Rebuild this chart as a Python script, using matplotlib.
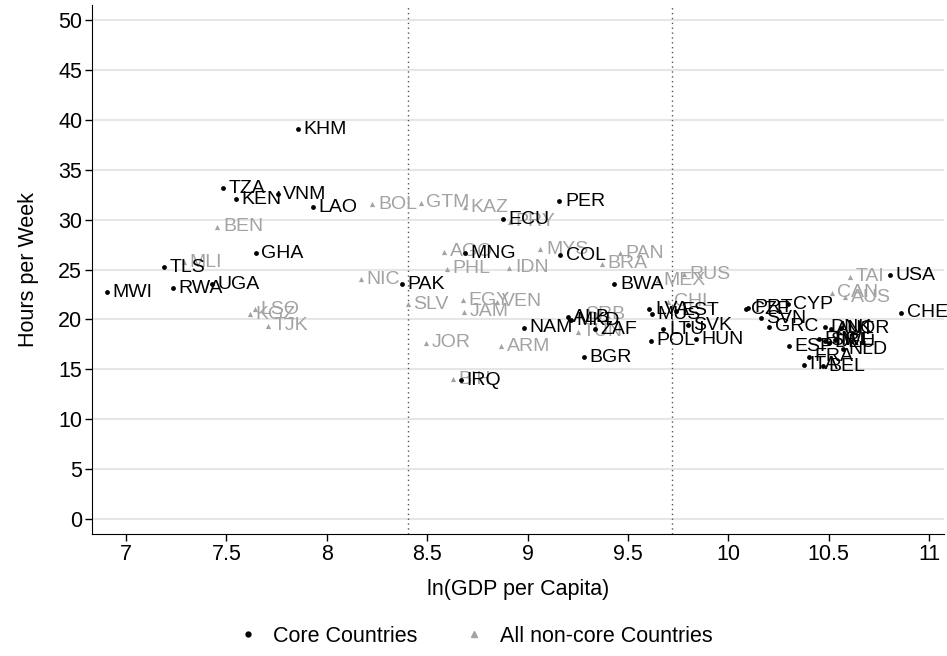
import matplotlib
matplotlib.use("Agg")
import matplotlib.pyplot as plt
from matplotlib.lines import Line2D

plt.rcParams["font.family"] = ["Liberation Sans", "DejaVu Sans"]

# Core countries (black dots)
core_codes = ["MWI", "TLS", "RWA", "UGA", "TZA", "KEN", "GHA", "VNM", "KHM", "LAO",
              "PAK", "MNG", "IRQ", "ECU", "NAM", "PER", "COL", "ALB", "MKD", "ZAF",
              "BGR", "BWA", "LVA", "MUS", "POL", "LTU", "EST", "SVK", "HUN", "CZE",
              "PRT", "SVN", "GRC", "CYP", "ESP", "ITA", "FRA", "BEL", "DNK", "AUT",
              "NOR", "FIN", "SWE", "DEU", "IRL", "NLD", "USA", "CHE"]
core_gdp = [6.905, 7.188, 7.234, 7.430, 7.485, 7.547, 7.646, 7.756, 7.858, 7.933,
            8.375, 8.688, 8.669, 8.877, 8.980, 9.159, 9.162, 9.199, 9.218, 9.337,
            9.279, 9.433, 9.607, 9.621, 9.614, 9.677, 9.740, 9.797, 9.840, 10.087,
            10.100, 10.162, 10.205, 10.295, 10.300, 10.375, 10.400, 10.471, 10.480, 10.510,
            10.560, 10.450, 10.480, 10.500, 10.530, 10.570, 10.807, 10.860]
core_hours = [22.75, 25.22, 23.11, 23.55, 33.17, 32.03, 26.62, 32.57, 39.05, 31.26,
              23.52, 26.62, 13.93, 30.06, 19.17, 31.86, 26.45, 20.21, 19.94, 19.01,
              16.20, 23.55, 21.04, 20.54, 17.87, 19.00, 20.90, 19.44, 18.00, 21.01,
              21.18, 20.11, 19.27, 21.54, 17.33, 15.46, 16.27, 15.33, 19.20, 19.00,
              19.10, 18.00, 17.85, 17.65, 17.90, 17.00, 24.45, 20.67]

# All non-core countries (grey triangles)
other_codes = ["BEN", "MLI", "LSO", "KGZ", "TJK", "NIC", "BOL", "SLV", "GTM", "KAZ",
               "PRY", "AGO", "PHL", "IDN", "MYS", "BRA", "PAN", "EGY", "VEN", "JAM",
               "JOR", "ARM", "BIH", "SRB", "TUN", "MEX", "RUS", "CHL", "TAI", "CAN", "AUS"]
other_gdp = [7.455, 7.289, 7.643, 7.616, 7.709, 8.172, 8.227, 8.403, 8.468, 8.689,
             8.913, 8.586, 8.597, 8.910, 9.064, 9.370, 9.461, 8.677, 8.846, 8.684,
             8.493, 8.870, 8.629, 9.259, 9.249, 9.650, 9.780, 9.702, 10.604, 10.516, 10.582]
other_hours = [29.29, 25.72, 21.01, 20.54, 19.37, 24.05, 31.53, 21.51, 31.70, 31.23,
               29.79, 26.78, 25.08, 25.18, 27.02, 25.60, 26.62, 21.94, 21.78, 20.77,
               17.67, 17.33, 14.00, 20.54, 18.77, 23.95, 24.52, 21.77, 24.28, 22.68, 22.21]

cutoffs = [8.405, 9.72]
x_ticks = [7, 7.5, 8, 8.5, 9, 9.5, 10, 10.5, 11]
y_ticks = list(range(0, 55, 5))

grey = "#a3a3a3"

fig = plt.figure(figsize=(9.47, 6.56), dpi=100)
ax = fig.add_axes([0.097, 0.186, 0.900, 0.806])

for y in y_ticks:
    ax.axhline(y, color="#e6e6e6", linewidth=1.5, zorder=0)
for c in cutoffs:
    ax.axvline(c, color="#555555", linewidth=1.0, linestyle=(0, (1, 2.5)), zorder=1)

ax.scatter(other_gdp, other_hours, marker="^", s=14, color=grey, linewidths=0, zorder=2)
for code, x, y in zip(other_codes, other_gdp, other_hours):
    ax.annotate(code, (x, y), xytext=(4, 0), textcoords="offset points",
                va="center", ha="left", fontsize=14, color=grey, zorder=2)

ax.scatter(core_gdp, core_hours, marker="o", s=12, color="black", linewidths=0, zorder=3)
for code, x, y in zip(core_codes, core_gdp, core_hours):
    ax.annotate(code, (x, y), xytext=(4, 0), textcoords="offset points",
                va="center", ha="left", fontsize=14, color="black", zorder=3)

ax.set_xlim(6.83, 11.075)
ax.set_ylim(-1.5, 51.5)
ax.set_xticks(x_ticks)
ax.set_xticklabels([f"{t:g}" for t in x_ticks])
ax.set_yticks(y_ticks)
ax.tick_params(axis="both", labelsize=15.5, length=5, width=1, direction="out", pad=2)
ax.spines["top"].set_visible(False)
ax.spines["right"].set_visible(False)
ax.set_xlabel("ln(GDP per Capita)", fontsize=15.5, labelpad=10)
ax.set_ylabel("Hours per Week", fontsize=15.5, labelpad=14)

handles = [
    Line2D([], [], marker="o", linestyle="none", color="black", markersize=3.5, label="Core Countries"),
    Line2D([], [], marker="^", linestyle="none", color=grey, markersize=4, label="All non-core Countries"),
]
fig.legend(handles=handles, loc="center", bbox_to_anchor=(0.5, 0.03), ncol=2,
           frameon=False, fontsize=15.5, handletextpad=0.6, columnspacing=2.0, handlelength=1.2)

fig.savefig("out.png", dpi=100)
